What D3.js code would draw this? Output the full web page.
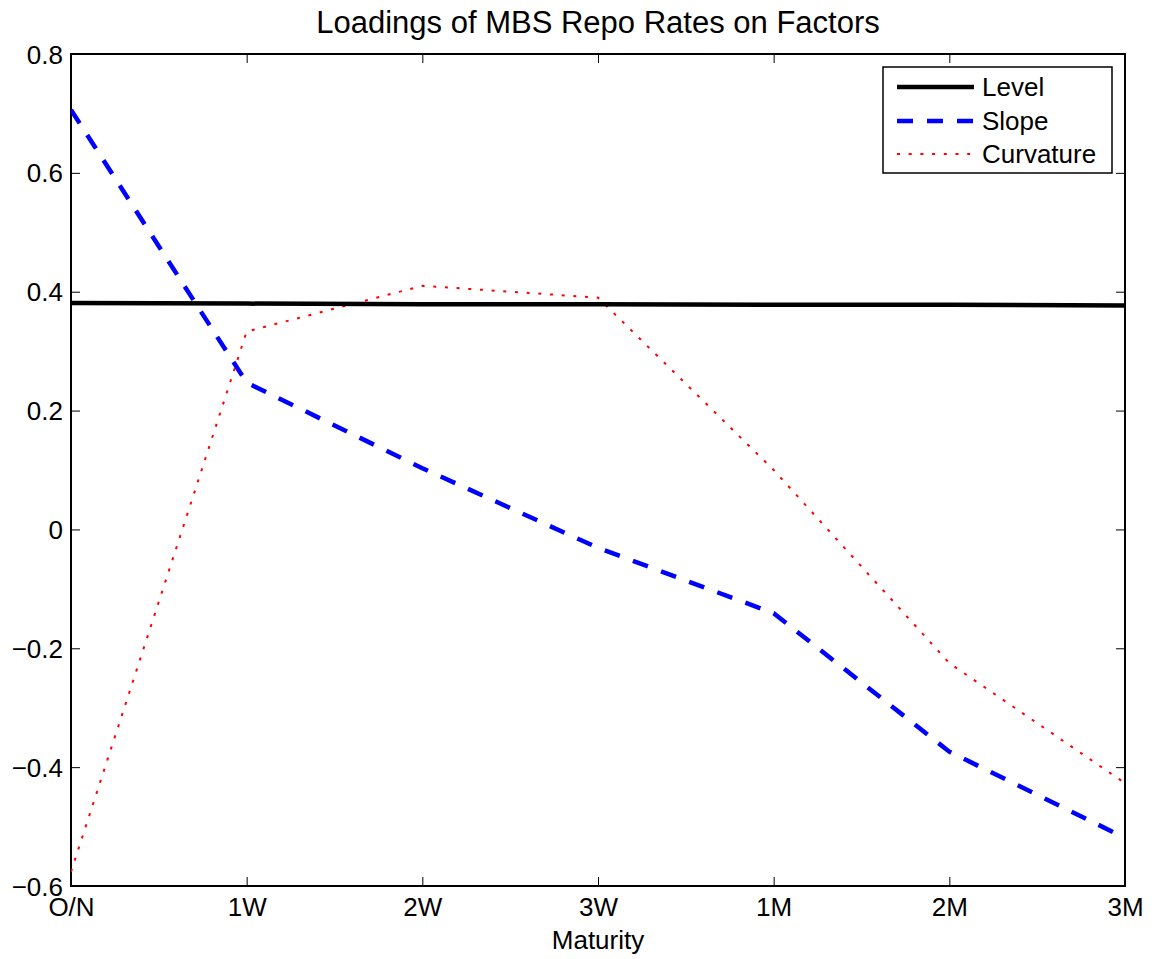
<!DOCTYPE html>
<html><head><meta charset="utf-8">
<script src="https://cdn.jsdelivr.net/npm/d3@7"></script>
<style>body{margin:0;background:#fff}svg{display:block}text{font-family:"Liberation Sans",Arial,sans-serif}</style>
</head><body>
<script>
const maturities = ["O/N","1W","2W","3W","1M","2M","3M"];
const level = [0.381, 0.380, 0.379, 0.379, 0.378, 0.378, 0.377];
const slope = [0.706, 0.247, 0.103, -0.031, -0.141, -0.374, -0.519];
const curvature = [-0.576, 0.333, 0.410, 0.390, 0.100, -0.225, -0.427];
const yTicks = [-0.6, -0.4, -0.2, 0, 0.2, 0.4, 0.6, 0.8];
const title = "Loadings of MBS Repo Rates on Factors";
const xLabel = "Maturity";
const seriesNames = ["Level","Slope","Curvature"];

const W = 1152, H = 959;
const m = {l:71, r:1125, t:54, b:886};
const svg = d3.select("body").append("svg").attr("width",W).attr("height",H);

const x = d3.scalePoint().domain(maturities).range([m.l, m.r]);
const y = d3.scaleLinear().domain([-0.6, 0.8]).range([m.b, m.t]);
const fs = 26;
const fmt = v => (v < 0 ? "\u2212" : "") + (Math.abs(v) < 1e-9 ? "0" : d3.format(".1f")(Math.abs(v)));

svg.append("rect").attr("x",m.l).attr("y",m.t).attr("width",m.r-m.l).attr("height",m.b-m.t)
  .attr("fill","none").attr("stroke","#000").attr("stroke-width",2);

const tl = 9;
const gx = svg.append("g").attr("transform",`translate(0,${m.b})`)
  .call(d3.axisBottom(x).tickSize(-tl).tickPadding(12));
const gxt = svg.append("g").attr("transform",`translate(0,${m.t})`)
  .call(d3.axisTop(x).tickSize(-tl).tickFormat(""));
const gy = svg.append("g").attr("transform",`translate(${m.l},0)`)
  .call(d3.axisLeft(y).tickValues(yTicks).tickSize(-tl).tickPadding(8).tickFormat(fmt));
const gyr = svg.append("g").attr("transform",`translate(${m.r},0)`)
  .call(d3.axisRight(y).tickValues(yTicks).tickSize(-tl).tickFormat(""));
[gx,gxt,gy,gyr].forEach(g=>{
  g.select(".domain").remove();
  g.selectAll(".tick line").attr("stroke","#000").attr("stroke-width",1);
  g.selectAll("text").attr("font-size",fs).attr("fill","#000").attr("font-family","Liberation Sans, Arial, sans-serif");
});
gy.selectAll(".tick text").attr("dy","0.35em");

const line = d3.line().x((d,i)=>x(maturities[i])).y(d=>y(d));
const styles = [
  {data:level, color:"#000", w:4.5, dash:null},
  {data:slope, color:"#0000ff", w:4.5, dash:"16,14"},
  {data:curvature, color:"#ff0000", w:2, dash:"3,8.7"}
];
svg.append("clipPath").attr("id","c").append("rect")
  .attr("x",m.l).attr("y",m.t).attr("width",m.r-m.l).attr("height",m.b-m.t);
const plot = svg.append("g").attr("clip-path","url(#c)");
[2,1,0].forEach(i=>{
  const s = styles[i];
  plot.append("path").datum(s.data).attr("d",line).attr("fill","none")
    .attr("stroke",s.color).attr("stroke-width",s.w)
    .attr("stroke-dasharray",s.dash);
});

svg.append("text").attr("x",(m.l+m.r)/2).attr("y",33).attr("text-anchor","middle")
  .attr("font-size",31).text(title);
svg.append("text").attr("x",(m.l+m.r)/2).attr("y",949).attr("text-anchor","middle")
  .attr("font-size",fs).text(xLabel);

const lg = svg.append("g");
lg.append("rect").attr("x",883).attr("y",67).attr("width",229).attr("height",106)
  .attr("fill","#fff").attr("stroke","#000").attr("stroke-width",1.5);
const rows = [87,121,154];
seriesNames.forEach((n,i)=>{
  const s = styles[i];
  lg.append("line").attr("x1",897).attr("x2",974).attr("y1",rows[i]).attr("y2",rows[i])
    .attr("stroke",s.color).attr("stroke-width",s.w).attr("stroke-dasharray",s.dash);
  lg.append("text").attr("x",982).attr("y",rows[i]).attr("dy","0.36em")
    .attr("font-size",fs).text(n);
});
</script>
</body></html>
